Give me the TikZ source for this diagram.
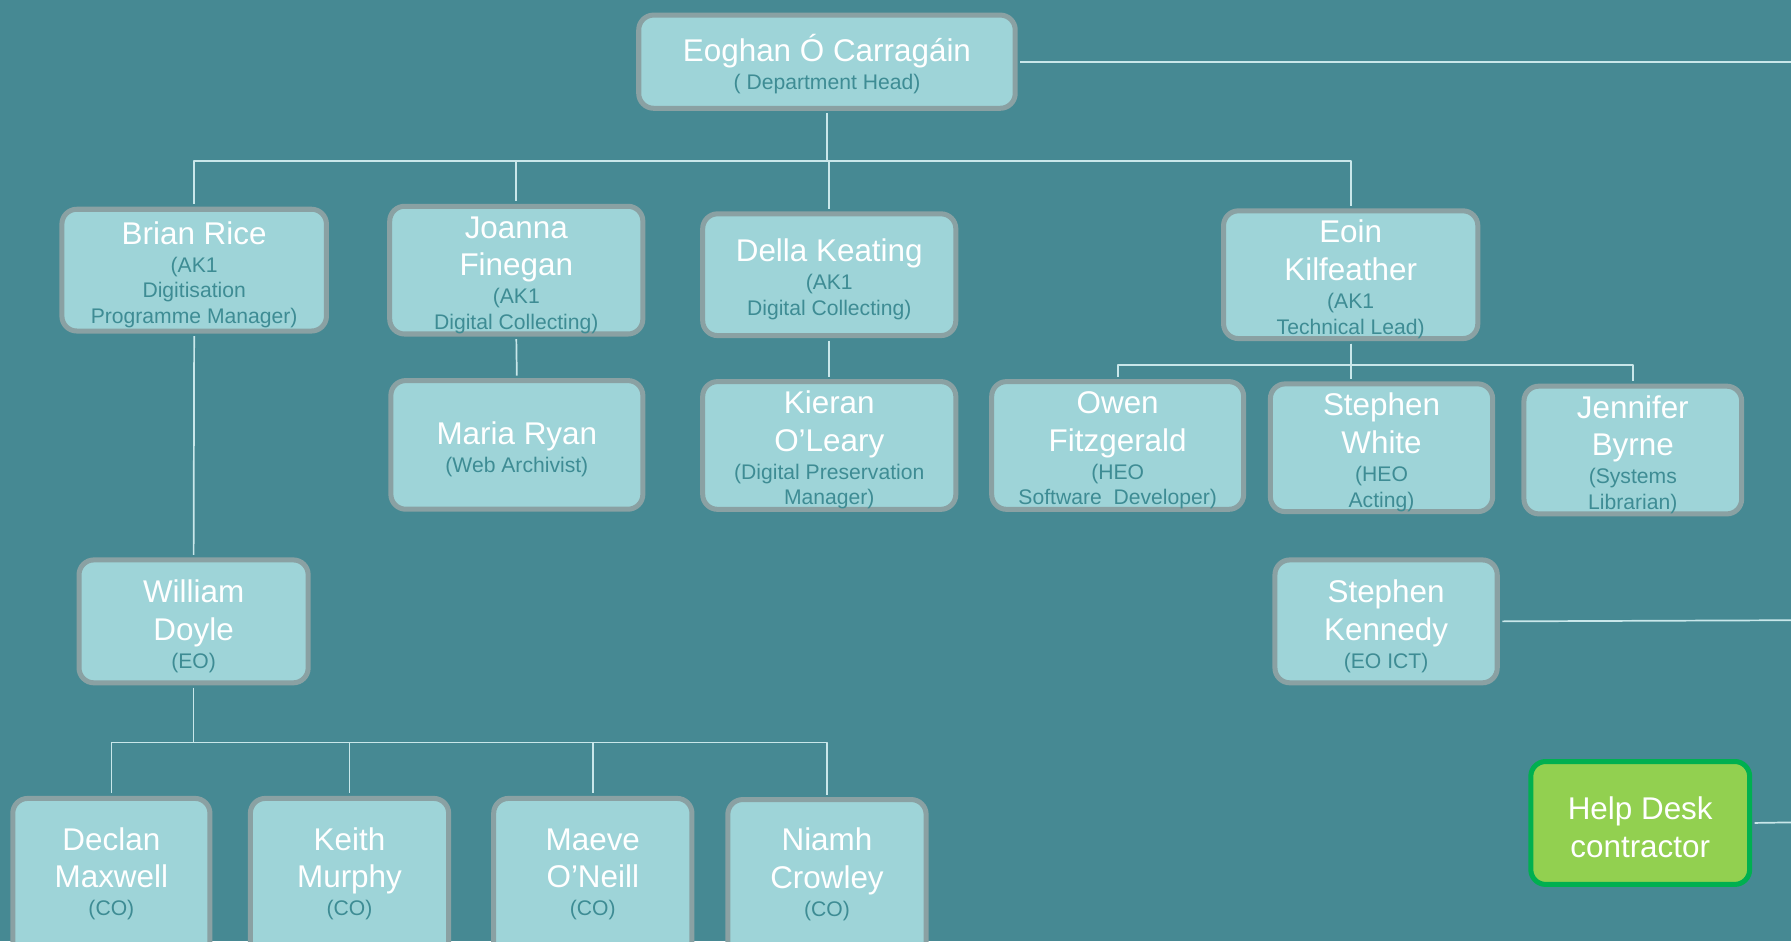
\documentclass[tikz,border=0pt]{standalone}
\usepackage{fontspec}
\setmainfont{Liberation Sans}
\definecolor{bgteal}{HTML}{468993}
\definecolor{boxfill}{HTML}{9ED4D8}
\definecolor{boxline}{HTML}{8AA1A3}
\definecolor{roletext}{HTML}{3E8C94}
\definecolor{linkline}{HTML}{C9E7EA}
\definecolor{helpfill}{HTML}{92D050}
\definecolor{helpline}{HTML}{00B050}
\newcommand{\nm}[1]{{\fontsize{27.5}{33}\selectfont\color{white}\rule{0pt}{28pt}#1}}

\begin{document}
\begin{tikzpicture}[x=1pt,y=-1pt,line join=round,
    staff/.style={draw=boxline,fill=boxfill,line width=4.4pt,rounded corners=13pt,inner sep=0pt,align=center,text=roletext,
      font={\fontsize{18.5}{22.5}\selectfont\lineskiplimit=-30pt}},
    helpbox/.style={staff,draw=helpline,fill=helpfill,text=white},
    link/.style={draw=linkline,line width=1.5pt,shorten >=2.2pt,shorten <=2.2pt}]
            \useasboundingbox[fill=bgteal] (0,0) rectangle (1568,824);
            \clip (0,0) rectangle (1568,824);
            % head
            \node[staff,minimum width=329.6pt,minimum height=81.6pt] (boss) at (724,54) {\nm{Eoghan Ó Carragáin}\\[2pt]( Department Head)};
            % second row
            \node[staff,minimum width=231.6pt,minimum height=106.6pt] (brian) at (170,236.5) {\nm{Brian Rice}\\[2pt](AK1\\Digitisation\\Programme Manager)};
            \node[staff,minimum width=221.6pt,minimum height=106.6pt] (joanna) at (452,236.5) {\nm{Joanna}\\[10.5pt]\nm{Finegan}\\[2pt](AK1\\Digital Collecting)};
            \node[staff,minimum width=221.6pt,minimum height=106.6pt] (della) at (726,240.5) {\nm{Della Keating}\\[2pt](AK1\\Digital Collecting)};
            \node[staff,minimum width=222.6pt,minimum height=106.6pt] (eoin) at (1182.5,240.5) {\nm{Eoin}\\[10.5pt]\nm{Kilfeather}\\[2pt](AK1\\Technical Lead)};
            % third row
            \node[staff,minimum width=220.6pt,minimum height=112.6pt] (maria) at (452.5,389.5) {\nm{Maria Ryan}\\[2pt](Web Archivist)};
            \node[staff,minimum width=221.6pt,minimum height=111.6pt] (kieran) at (726,390) {\nm{Kieran}\\[10.5pt]\nm{O’Leary}\\[2pt](Digital Preservation\\Manager)};
            \node[staff,minimum width=220.6pt,minimum height=107.6pt] (owen) at (978.5,390) {\nm{Owen}\\[10.5pt]\nm{Fitzgerald}\\[2pt](HEO\\Software \ Developer)};
            \node[staff,minimum width=194.6pt,minimum height=107.6pt] (swhite) at (1209.5,392) {\nm{Stephen}\\[10.5pt]\nm{White}\\[2pt](HEO\\Acting)};
            \node[staff,minimum width=190.6pt,minimum height=103.6pt] (jbyrne) at (1429.5,394) {\nm{Jennifer}\\[10.5pt]\nm{Byrne}\\[2pt](Systems\\Librarian)};
            % fourth row
            \node[staff,minimum width=200.6pt,minimum height=107.6pt] (william) at (169.5,544) {\nm{William}\\[10.5pt]\nm{Doyle}\\[2pt](EO)};
            \node[staff,minimum width=194.6pt,minimum height=107.6pt] (skennedy) at (1213.5,544) {\nm{Stephen}\\[10.5pt]\nm{Kennedy}\\[2pt](EO ICT)};
            \node[helpbox,minimum width=191.6pt,minimum height=107.6pt] (helpdesk) at (1436,720.5) {\nm{Help Desk}\\[10.5pt]\nm{contractor}};
            % bottom row, running past the lower edge
            \node[staff,minimum width=172.6pt,minimum height=140pt] (declan) at (97.5,769) {\nm{Declan}\\[10.5pt]\nm{Maxwell}\\[2pt](CO)\rule[-20pt]{0pt}{20pt}};
            \node[staff,minimum width=173.6pt,minimum height=140pt] (keith) at (306,769) {\nm{Keith}\\[10.5pt]\nm{Murphy}\\[2pt](CO)\rule[-20pt]{0pt}{20pt}};
            \node[staff,minimum width=173.6pt,minimum height=140pt] (maeve) at (519,769) {\nm{Maeve}\\[10.5pt]\nm{O’Neill}\\[2pt](CO)\rule[-20pt]{0pt}{20pt}};
            \node[staff,minimum width=173.6pt,minimum height=139pt] (niamh) at (724,769.5) {\nm{Niamh}\\[10.5pt]\nm{Crowley}\\[2pt](CO)\rule[-20pt]{0pt}{20pt}};
            % right edge
            \coordinate (edgeA) at (1568,54);
            \coordinate (edgeB) at (1568,543);
            \coordinate (edgeC) at (1568,720);
            % connectors
            \draw[link] (boss.south) -- ++(0,44) -| (brian.north);
            \draw[link] (boss.south) -- ++(0,44) -| (joanna.north);
            \draw[link] (boss.south) -- ++(0,44) -| (della.north);
            \draw[link] (boss.south) -- ++(0,44) -| (eoin.north);
            \draw[link] (joanna.south) -- (maria.north);
            \draw[link] (della.south) -- (kieran.north);
            \draw[link] (eoin.south) -- ++(0,21) -| (owen.north);
            \draw[link] (eoin.south) -- ++(0,21) -| (jbyrne.north);
            \draw[link] (eoin.south) -- (eoin.south |- swhite.north);
            \draw[link] (brian.south) -- (william.north);
            \draw[link] (william.south) -- ++(0,50) -| (declan.north);
            \draw[link] (william.south) -- ++(0,50) -| (keith.north);
            \draw[link] (william.south) -- ++(0,50) -| (maeve.north);
            \draw[link] (william.south) -- ++(0,50) -| (niamh.north);
            \draw[link,shorten >=0pt] (boss.east) -- (edgeA);
            \draw[link,shorten >=0pt] (skennedy.east) -- (edgeB);
            \draw[link,shorten >=0pt] (helpdesk.east) -- (edgeC);
\end{tikzpicture}
\end{document}
